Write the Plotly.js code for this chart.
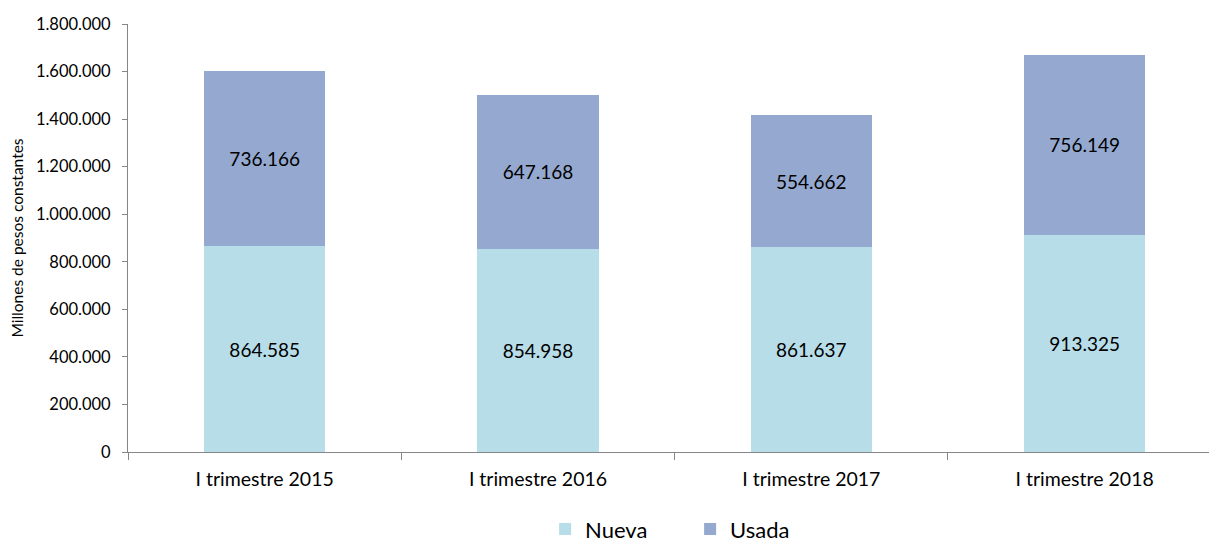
<!DOCTYPE html>
<html>
<head>
<meta charset="utf-8">
<script src="https://cdn.plot.ly/plotly-3.0.1.min.js"></script>
<style>html,body{margin:0;padding:0;background:#fff;}#chart{width:1209px;height:544px;}</style>
</head>
<body>
<div id="chart"></div>
<script>
const categories = ["I trimestre 2015", "I trimestre 2016", "I trimestre 2017", "I trimestre 2018"];
const nueva = [864585, 854958, 861637, 913325];
const usada = [736166, 647168, 554662, 756149];
const seriesNames = ["Nueva", "Usada"];
const yTitle = "Millones de pesos constantes";

const FONT = "Lato, 'Open Sans', sans-serif";
const common = {
  type: "bar",
  x: categories,
  textposition: "inside",
  insidetextanchor: "middle",
  texttemplate: "%{y:,d}",
  textfont: {family: FONT, size: 19, color: "#000"},
  hoverinfo: "skip"
};
const traces = [
  Object.assign({}, common, {name: seriesNames[0], y: nueva, marker: {color: "#B7DDE8", line: {width: 0}}}),
  Object.assign({}, common, {name: seriesNames[1], y: usada, marker: {color: "#95A9D0", line: {width: 0}}})
];

const layout = {
  width: 1209, height: 544,
  margin: {l: 128, r: 0, t: 24, b: 92, pad: 0},
  barmode: "stack",
  bargap: 0.555,
  separators: ",.",
  paper_bgcolor: "#fff", plot_bgcolor: "#fff",
  font: {family: FONT, color: "#000"},
  showlegend: true,
  legend: {
    orientation: "h", x: 0.520, xanchor: "center",
    yref: "container", y: 0.027, yanchor: "middle",
    font: {family: FONT, size: 22, color: "#000"},
    entrywidth: 100, traceorder: "normal"
  },
  xaxis: {
    type: "category",
    range: [-0.5, 3.455],
    showline: true, linecolor: "#868686", linewidth: 1,
    ticks: "outside", ticklen: 7, tickcolor: "#868686", tickson: "boundaries",
    ticklabelstandoff: 10,
    showgrid: false, zeroline: false,
    tickfont: {family: FONT, size: 19.5, color: "#000"},
    automargin: false,
    fixedrange: true
  },
  yaxis: {
    range: [0, 1800000], dtick: 200000, tick0: 0,
    tickformat: ",d",
    showline: true, linecolor: "#868686", linewidth: 1,
    ticks: "outside", ticklen: 5, tickcolor: "#868686",
    ticklabelstandoff: 8,
    showgrid: false, zeroline: false,
    tickfont: {family: FONT, size: 16.5, color: "#000"},
    title: {text: yTitle, font: {family: FONT, size: 15.5, color: "#000"}, standoff: 8},
    automargin: false,
    fixedrange: true
  }
};
Plotly.newPlot("chart", traces, layout, {displayModeBar: false, staticPlot: true});
</script>
</body>
</html>
